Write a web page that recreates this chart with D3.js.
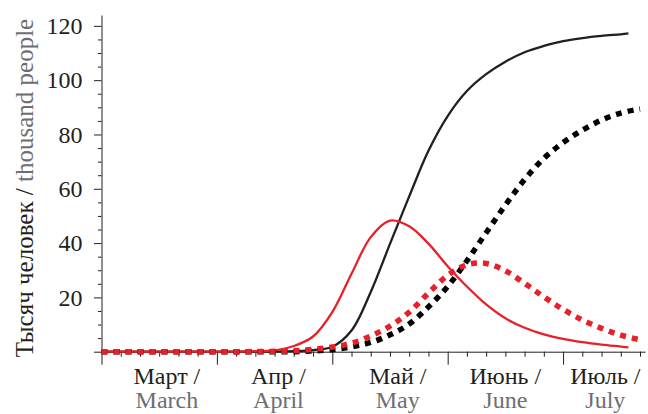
<!DOCTYPE html>
<html>
<head>
<meta charset="utf-8">
<script src="https://cdn.jsdelivr.net/npm/d3@7"></script>
<style>
  body { margin: 0; background: #fff; }
  text { font-family: "Liberation Serif", "DejaVu Serif", serif; }
</style>
</head>
<body>
<svg id="chart" width="648" height="414"></svg>
<script>
// days since 1 March
const daysSolid = [0,5,10,15,20,25,30,35,40,45,50,55,60,65,70,75,80,85,90,95,100,105,110,115,120,125,130,135,137];
const daysDotted = [0,5,10,15,20,25,30,35,40,45,50,55,60,65,70,75,80,85,90,95,100,105,110,115,120,125,130,135,140];

// thousand people
const blackSolid  = [0,0,0,0,0,0,0,0,0,0.05,0.2,0.6,1.8,7.8,22,39.7,57.2,74,86.8,96,102.2,106.8,110.3,112.6,114.4,115.5,116.3,116.9,117.2];
const redSolid    = [0,0,0,0,0,0,0,0.05,0.2,0.5,2.1,5.6,14.6,28.7,42.2,48.3,46.2,39.8,31.5,24,17.4,12.3,8.8,6.4,4.7,3.5,2.6,1.9,1.6];
const redDotted   = [0,0,0,0,0,0,0,0,0.05,0.15,0.35,0.9,1.7,3.1,5.8,9.4,14.6,21.6,28.1,32,32.5,29.8,25.2,20.2,15.6,11.7,8.6,6.1,4.4];
const blackDotted = [0,0,0,0,0,0,0,0,0,0,0,0.3,0.8,1.8,3.4,6.2,10.2,16.5,24,33.5,43.8,54,63.4,71.2,77,81.6,85.3,87.9,89.4];

const monthsRu = ["Март /", "Апр /", "Май /", "Июнь /", "Июль /"];
const monthsEn = ["March", "April", "May", "June", "July"];
const monthLabelDays = [17, 46, 77, 105, 131];
const yTickLabels = [20, 40, 60, 80, 100, 120];

const dark = "#231f20", grey = "#6d6e71", red = "#e8202a";

const svg = d3.select("#chart");

const x = d3.scaleLinear().domain([0, 141.3]).range([101.5, 645]);
const y = d3.scaleLinear().domain([0, 124]).range([351.7, 15]);

// x axis
const xAxis = svg.append("g")
    .attr("transform", "translate(0," + y(0) + ")")
    .call(d3.axisBottom(x).tickValues(d3.range(0, 141, 5)).tickSize(5).tickSizeOuter(0).tickFormat(""));
xAxis.selectAll(".tick line").filter(d => d % 30 === 0).attr("y2", 13);
xAxis.selectAll("path, line").attr("stroke", dark);

// y axis
const yAxis = svg.append("g")
    .attr("transform", "translate(" + x(0) + ",0)")
    .call(d3.axisLeft(y).tickValues(d3.range(0, 121, 5)).tickSize(3.5).tickSizeOuter(0)
      .tickFormat(d => yTickLabels.includes(d) ? d : ""));
yAxis.selectAll(".tick line").filter(d => d % 20 === 0).attr("x2", -7.5);
yAxis.selectAll("path, line").attr("stroke", dark);
yAxis.selectAll(".tick text")
    .attr("x", -19)
    .attr("fill", dark)
    .style("font-size", "24px")
    .style("font-family", "Liberation Serif, serif");

// month labels
const lab = svg.append("g").selectAll("text")
    .data(monthLabelDays)
    .enter().append("text")
    .attr("text-anchor", "middle")
    .style("font-size", "24px");
lab.append("tspan")
    .attr("x", d => x(d)).attr("y", 384)
    .attr("fill", dark)
    .text((d, i) => monthsRu[i]);
lab.append("tspan")
    .attr("x", d => x(d)).attr("y", 408)
    .attr("fill", grey)
    .text((d, i) => monthsEn[i]);

// y title
const yt = svg.append("text")
    .attr("transform", "translate(33,188) rotate(-90)")
    .attr("text-anchor", "middle")
    .style("font-size", "25px");
yt.append("tspan").attr("fill", dark).text("Тысяч человек / ");
yt.append("tspan").attr("fill", grey).text("thousand people");

// lines
const line = d3.line()
    .x(d => x(d[0]))
    .y(d => y(Math.max(0, d[1])))
    .curve(d3.curveCatmullRom.alpha(0.5));

function drawLine(days, vals, color, width, dash) {
  svg.append("path")
    .datum(days.map((d, i) => [d, vals[i]]))
    .attr("fill", "none")
    .attr("stroke", color)
    .attr("stroke-width", width)
    .attr("stroke-dasharray", dash)
    .attr("d", line);
}

drawLine(daysSolid, blackSolid, dark, 2.3, null);
drawLine(daysSolid, redSolid, red, 2.3, null);
drawLine(daysDotted, blackDotted, "#000", 5.5, "6,6");
drawLine(daysDotted, redDotted, red, 5.5, "6,6");
</script>
</body>
</html>
